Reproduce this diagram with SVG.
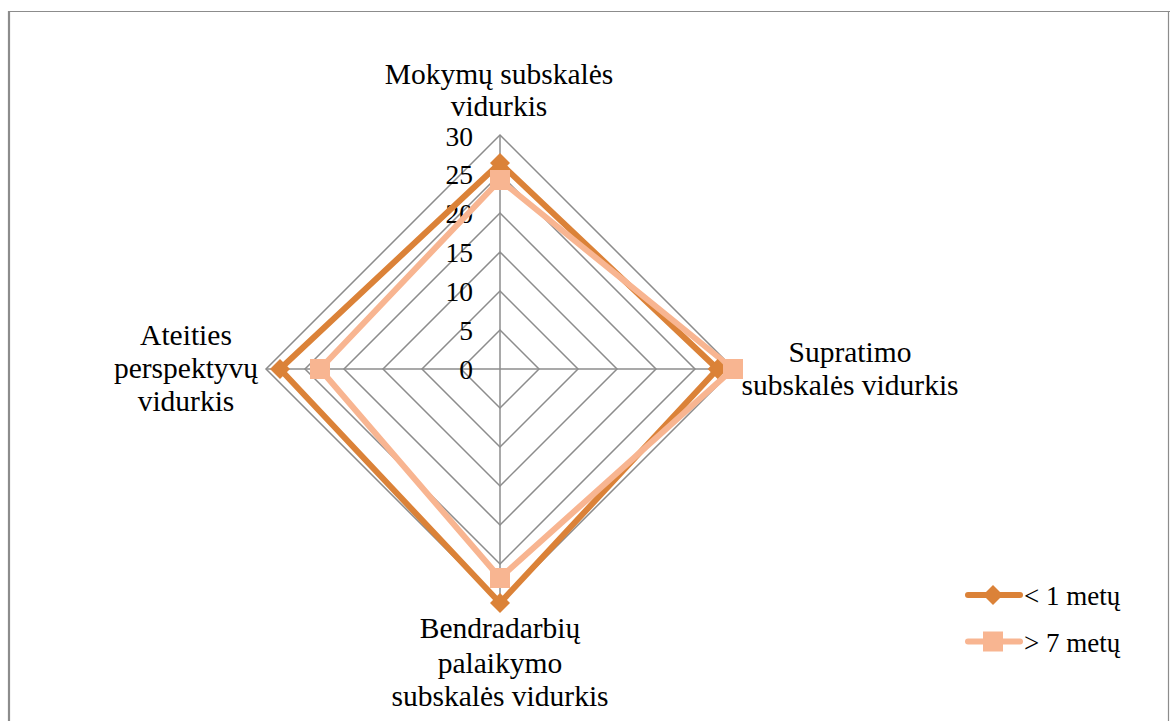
<svg xmlns="http://www.w3.org/2000/svg" width="1170" height="721" viewBox="0 0 1170 721" font-family="'Liberation Serif', 'DejaVu Serif', serif">
  <style>
    text { font-family: 'Liberation Serif', 'DejaVu Serif', serif; fill: #000; }
    .lbl { font-size: 29.5px; text-anchor: middle; }
    .tick { font-size: 27.5px; text-anchor: end; }
    .leg { font-size: 27px; }
    .grid { fill: none; stroke: #8c8c8c; stroke-width: 1.5; }
    .s1 { fill: none; stroke: #db8238; stroke-width: 6; stroke-linejoin: round; }
    .s2 { fill: none; stroke: #f8b591; stroke-width: 6; stroke-linejoin: round; }
    .m1 { fill: #db8238; }
    .m2 { fill: #f8b591; }
  </style>
  <defs>
    <path id="diamond" d="M0,-10 L10,0 L0,10 L-10,0 Z"/>
    <rect id="square" x="-10" y="-10" width="20" height="20"/>
  </defs>

  <rect width="1170" height="721" fill="#fff"/>
  <!-- chart frame -->
  <line x1="8" y1="11.5" x2="1170" y2="11.5" stroke="#8c8c8c" stroke-width="1.2"/>
  <line x1="9" y1="11" x2="9" y2="721" stroke="#8c8c8c" stroke-width="2.2"/>
  <line x1="1168.5" y1="11" x2="1168.5" y2="721" stroke="#8c8c8c" stroke-width="1.2"/>

  <!-- radar grid: rings every 5 units, centre (500,369) -->
  <g id="grid">
    <path class="grid" d="M500,330 L539,369 L500,408 L461,369 Z"/>
    <path class="grid" d="M500,291 L578,369 L500,447 L422,369 Z"/>
    <path class="grid" d="M500,252 L617,369 L500,486 L383,369 Z"/>
    <path class="grid" d="M500,213 L656,369 L500,525 L344,369 Z"/>
    <path class="grid" d="M500,174 L695,369 L500,564 L305,369 Z"/>
    <path class="grid" d="M500,135 L734,369 L500,603 L266,369 Z"/>
    <line class="grid" x1="500" y1="369" x2="500" y2="135"/>
    <line class="grid" x1="500" y1="369" x2="734" y2="369"/>
    <line class="grid" x1="500" y1="369" x2="500" y2="603"/>
    <line class="grid" x1="500" y1="369" x2="266" y2="369"/>
  </g>

  <g id="ticks">
    <text class="tick" x="473" y="379">0</text>
    <text class="tick" x="473" y="340">5</text>
    <text class="tick" x="473" y="301">10</text>
    <text class="tick" x="473" y="262">15</text>
    <text class="tick" x="473" y="223">20</text>
    <text class="tick" x="473" y="184">25</text>
    <text class="tick" x="473" y="146">30</text>
  </g>

  <!-- data series -->
  <g id="connectors">
    <path class="s1" d="M500,163 L717.6,369 L500,603 L280,369 Z"/>
    <path class="s2" d="M500,180 L733,369 L500,578 L320,369 Z"/>
  </g>

  <g id="series-less-1">
    <use href="#diamond" class="m1" x="500" y="163"/>
    <use href="#diamond" class="m1" x="717.6" y="369"/>
    <use href="#diamond" class="m1" x="500" y="603"/>
    <use href="#diamond" class="m1" x="280" y="369"/>
  </g>
  <g id="series-more-7">
    <use href="#square" class="m2" x="500" y="180"/>
    <use href="#square" class="m2" x="733" y="369"/>
    <use href="#square" class="m2" x="500" y="578"/>
    <use href="#square" class="m2" x="320" y="369"/>
  </g>

  <!-- category labels -->
  <g id="axis-mokymu">
    <text class="lbl" x="499" y="84">Mokymų subskalės</text>
    <text class="lbl" x="499" y="116">vidurkis</text>
  </g>
  <g id="axis-supratimo">
    <text class="lbl" x="850" y="362">Supratimo</text>
    <text class="lbl" x="850" y="395">subskalės vidurkis</text>
  </g>
  <g id="axis-bendradarbiu">
    <text class="lbl" x="500" y="638">Bendradarbių</text>
    <text class="lbl" x="500" y="673">palaikymo</text>
    <text class="lbl" x="500" y="706">subskalės vidurkis</text>
  </g>
  <g id="axis-ateities">
    <text class="lbl" x="186" y="345">Ateities</text>
    <text class="lbl" x="186" y="378">perspektyvų</text>
    <text class="lbl" x="186" y="411">vidurkis</text>
  </g>

  <!-- legend -->
  <g id="legend">
    <line class="s1" x1="968" y1="595" x2="1020" y2="595" stroke-linecap="round"/>
    <use href="#diamond" class="m1" x="993" y="595"/>
    <text class="leg" x="1024" y="605">&lt; 1 metų</text>
    <line class="s2" x1="968" y1="641.5" x2="1020" y2="641.5" stroke-linecap="round"/>
    <use href="#square" class="m2" x="993" y="641.5"/>
    <text class="leg" x="1024" y="652">&gt; 7 metų</text>
  </g>
</svg>
